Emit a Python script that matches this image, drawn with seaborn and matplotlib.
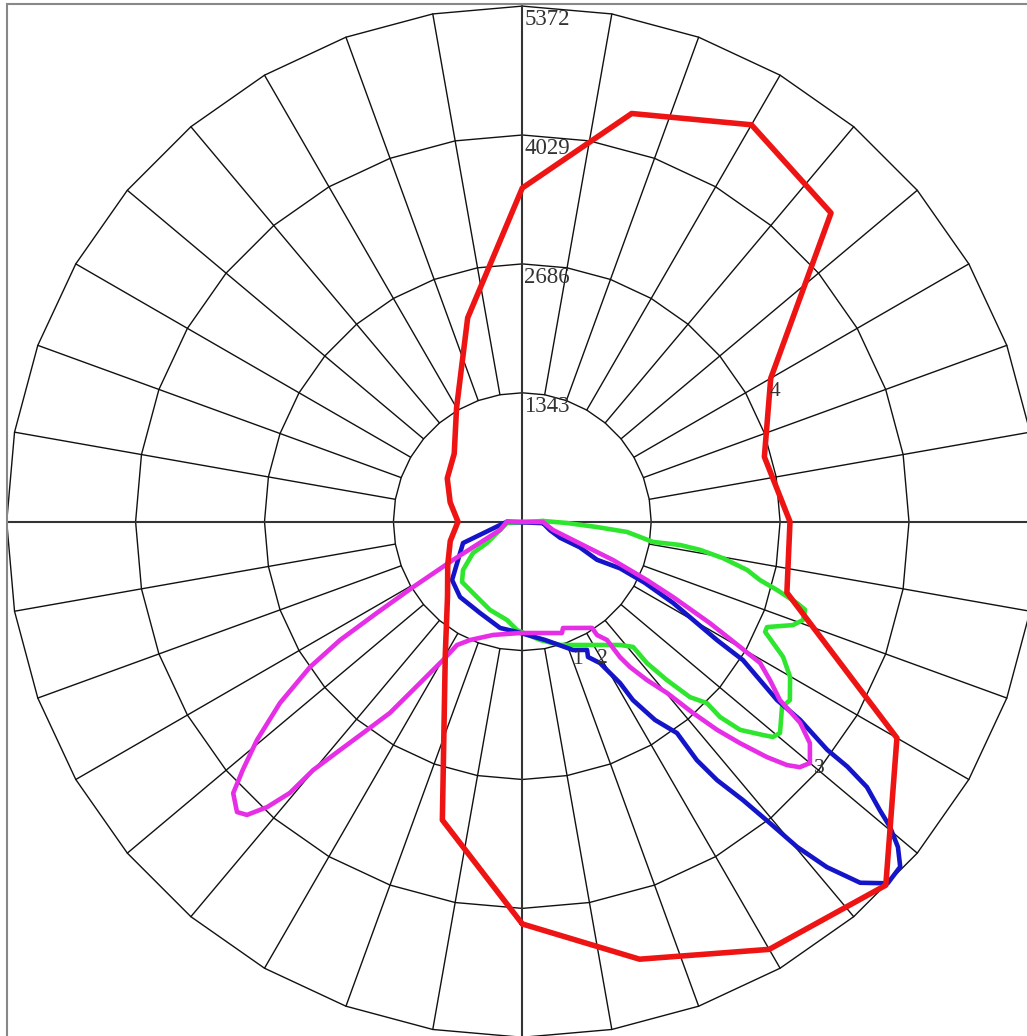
import numpy as np
import pandas as pd
import matplotlib
matplotlib.use("Agg")
import matplotlib.pyplot as plt
import seaborn as sns
from matplotlib.patches import Rectangle

# ---- data (angle in degrees from nadir, counter-clockwise; intensity in cd) ----
ring_values = [1343, 2686, 4029, 5372]
ring_labels = ["1343", "2686", "4029", "5372"]

red_ang = [0, 15, 30, 45, 60, 75, 90, 105, 120, 135, 150, 165, 180, 195, 210, 225,
           240, 255, 270, 285, 300, 315, 330, 345, 360]
red_cd = [4191, 4719, 5145, 5356, 4507, 2854, 2789, 2611, 2989, 4549, 4775, 4403, 3477,
          2199, 1370, 1003, 903, 778, 670, 777, 897, 1102, 1605, 3218, 4191]

blue_ang = [86, 73, 67, 66, 63, 64.5, 63.5, 61.7, 58.7, 57.9, 55, 54.5, 53.2, 53, 52.4,
            51.1, 50.3, 49.1, 47.6, 45.3, 43.1, 41.4, 40.2, 39.4, 38.4, 37, 36.2, 36.2,
            33.8, 31.8, 31.2, 28.8, 25.9, 26.8, 21.6, 10.9, -2.8, -11.8, -24.9, -39.6,
            -50.3, -70.2, -81.5, -90, 86]
blue_cd = [216, 301, 428, 656, 874, 1130, 1425, 1784, 2373, 2714, 3239, 3555, 3967, 4241,
           4532, 4787, 4980, 5178, 5332, 5356, 5152, 4798, 4436, 4063, 3701, 3371, 3079,
           2729, 2486, 2187, 1965, 1681, 1567, 1497, 1438, 1255, 1150, 1131, 1048, 1018,
           951, 656, 234, 159, 216]

green_ang = [92, 88.3, 85.9, 84.4, 81.2, 81.6, 81, 79.7, 77.9, 76.2, 75, 73.5, 72.7, 70.7,
             69.1, 66.7, 65.6, 64.2, 62.6, 59.9, 56.3, 54.5, 50.65, 49.35, 48.45, 46.3,
             45.35, 45.5, 43.7, 42.4, 41.4, 41.5, 38.4, 32.2, 17, 8.5, -2.8, -8.8, -20.1,
             -31, -45, -50.8, -57.6, -58.9, -65.9, -85.1, 92]
green_cd = [216, 466, 780, 1096, 1378, 1661, 1875, 2125, 2394, 2550, 2747, 2985, 3086, 3099,
            3019, 2776, 2778, 2902, 3060, 3225, 3351, 3324, 3472, 3443, 3351, 3139, 2895,
            2696, 2528, 2235, 1964, 1742, 1639, 1518, 1343, 1246, 1130, 1037, 979, 916,
            888, 797, 608, 430, 289, 160, 216]

mag_ang = [-90, 89.2, 74.9, 71.1, 68.6, 67.1, 64.9, 63.45, 61.6, 60.1, 59.3, 57.4, 55.3,
           54.1, 52.4, 50, 48.5, 47.4, 46.1, 44.5, 43.1, 41.75, 40.2, 38.2, 36.55, 35.8,
           35.6, 33.4, 33.3, 20.95, 19.6, -1.2, -14.5, -23.85, -27.9, -29.8, -31.05, -33,
           -34.7, -36.7, -38.6, -40.1, -40.6, -41.8, -43.2, -44.5, -46.8, -48.4, -50.55,
           -53.2, -55.6, -57, -57.9, -59.1, -61.1, -69.6, -90]
mag_cd = [160, 216, 331, 492, 724, 1026, 1435, 1756, 2222, 2617, 2881, 3063, 3265, 3574,
          3782, 3912, 3860, 3746, 3537, 3234, 2970, 2671, 2336, 2099, 1885, 1739, 1516,
          1414, 1324, 1186, 1231, 1160, 1219, 1348, 1454, 1661, 1804, 2091, 2423, 2707,
          3044, 3383, 3722, 3989, 4191, 4241, 4132, 3894, 3580, 3153, 2681, 2264, 1788,
          1326, 825, 248, 160]

curve_labels = ["1", "2", "3", "4"]
curve_label_ang = [21.9, 30.3, 50.3, 117.2]
curve_label_cd = [1553, 1645, 4018, 2959]

# ---- figure ----
sns.set_theme(style="white")
plt.rcParams["font.family"] = ["Liberation Serif", "DejaVu Serif"]

W, H = 1027, 1036
fig = plt.figure(figsize=(W / 100, H / 100), dpi=100)
fig.patch.set_facecolor("white")
cx, cy, R = 522.3, 521.7, 515.6
ax = fig.add_axes([(cx - R) / W, (H - cy - R) / H, 2 * R / W, 2 * R / H], projection="polar")
ax.set_theta_zero_location("S")
ax.set_theta_direction(1)
ax.set_ylim(0, ring_values[-1])
ax.grid(False)
ax.set_xticks([])
ax.set_yticks([])
ax.spines["polar"].set_visible(False)
ax.patch.set_visible(False)

gcol = "#111111"
th = np.deg2rad(np.arange(0, 361, 10))
for v in ring_values:
    ax.plot(th, np.full_like(th, v, dtype=float), color=gcol, lw=1.0, clip_on=False, zorder=1)
for a in range(0, 360, 10):
    if a % 90:
        ax.plot([np.deg2rad(a)] * 2, [ring_values[0], ring_values[-1]], color=gcol, lw=1.0,
                clip_on=False, zorder=1)
for a in (0, 90):
    ax.plot([np.deg2rad(a), np.deg2rad(a + 180)], [ring_values[-1]] * 2, color="#333333",
            lw=1.5, clip_on=False, zorder=1)

for v, lab in zip(ring_values, ring_labels):
    ax.annotate(lab, xy=(np.pi, v), xytext=(2, -3), textcoords="offset pixels",
                ha="left", va="top", fontsize=16.5, color="#333333", zorder=5)

curves = [
    (green_ang, green_cd, "#2EE62E", 3.3),
    (blue_ang, blue_cd, "#1414C8", 3.3),
    (mag_ang, mag_cd, "#E62EE6", 3.3),
    (red_ang, red_cd, "#EE1414", 4.0),
]
for ang, cd, col, lw in curves:
    df = pd.DataFrame({"theta": np.deg2rad(ang), "cd": cd})
    n0 = len(ax.lines)
    sns.lineplot(data=df, x="theta", y="cd", sort=False, estimator=None, color=col,
                 lw=lw, ax=ax, legend=False)
    for ln in ax.lines[n0:]:
        ln.set_clip_on(False)
        ln.set_zorder(3)
        ln.set_solid_joinstyle("round")

for lab, a, v in zip(curve_labels, curve_label_ang, curve_label_cd):
    ax.text(np.deg2rad(a), v, lab, ha="center", va="center", fontsize=15.5,
            color="#333333", zorder=6)

ax.set_xlabel("")
ax.set_ylabel("")

fig.add_artist(Rectangle((6.5 / W, -0.05), 1.2, (H - 4) / H + 0.05, transform=fig.transFigure,
                         fill=False, ec="#888888", lw=1.5))

fig.savefig("out.png", dpi=100, facecolor="white")
